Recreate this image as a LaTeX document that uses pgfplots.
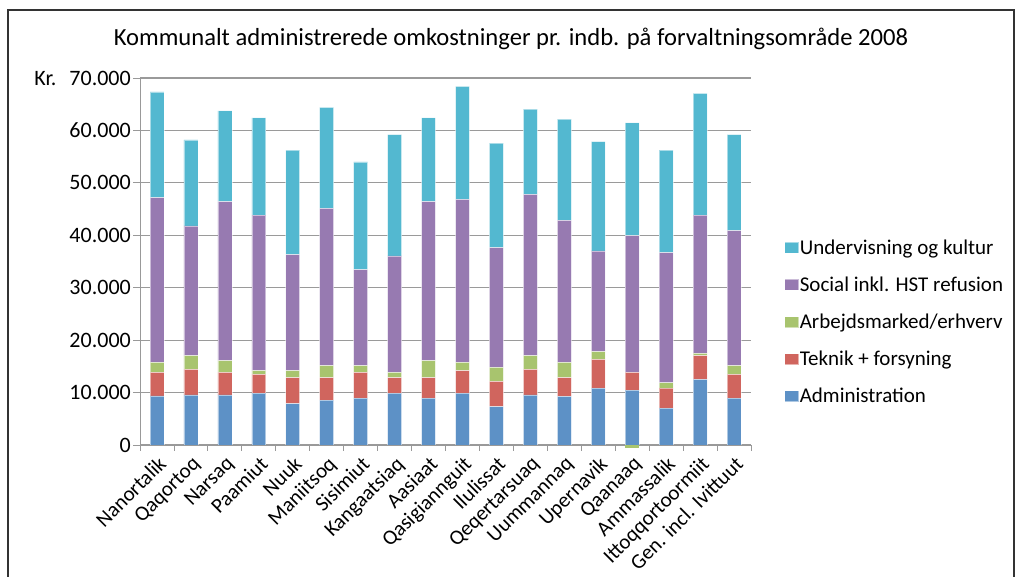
\documentclass[border=0pt]{standalone}
\usepackage{fontspec}
\setmainfont{Carlito}
\usepackage{pgfplots}
\usepackage{pgfplotstable}
\pgfplotsset{compat=1.18}
\definecolor{cAdm}{HTML}{5D91C6}
\definecolor{cTek}{HTML}{D0655E}
\definecolor{cArb}{HTML}{A8C46E}
\definecolor{cSoc}{HTML}{977AB1}
\definecolor{cUnd}{HTML}{53B8D0}
\definecolor{cGrid}{HTML}{9A9A9A}
\pgfplotstableread{
x adm tek arb soc und
0 9380 4470 1910 31400 20170
1 9570 4850 2620 24760 16400
2 9570 4280 2230 30320 17350
3 9890 3580 700 29670 18570
4 7910 4920 1340 22140 19910
5 8550 4280 2290 30000 19270
6 8930 4920 1270 18320 20550
7 9890 2940 1020 22210 23160
8 8930 3900 3250 30320 16010
9 9890 4280 1590 31080 21570
10 7340 4790 2680 22840 19910
11 9570 4850 2620 30760 16270
12 9250 3580 2930 27060 19340
13 10850 5490 1460 19210 20870
14 10470 3380 0 26100 21510
15 7020 3830 1020 24830 19520
16 12510 4530 450 26350 23230
17 8930 4540 1650 25790 18310
}\data
\newcommand{\fs}{\fontsize{22}{25}\selectfont}
\newcommand{\fx}{\fontsize{21}{24}\selectfont}
\begin{document}
\begin{tikzpicture}
\useasboundingbox (0,0) rectangle (1017pt,577pt);
\draw[line width=1.5pt, black!80] (8pt,-20pt) rectangle (1014pt,567pt);
\node[anchor=base, font=\fontsize{24.6}{28}\selectfont] at (511pt,531pt) {Kommunalt administrerede omkostninger pr. indb. på forvaltningsområde 2008};
\begin{axis}[
  at={(140pt,132pt)}, anchor=south west, scale only axis,
  width=611pt, height=367pt,
  ybar stacked, bar width=0.41,
  xmin=-0.5, xmax=17.5, ymin=0, ymax=70000,
  scaled y ticks=false,
  xtick={0,...,17},
  xticklabels={Nanortalik,Qaqortoq,Narsaq,Paamiut,Nuuk,Maniitsoq,Sisimiut,Kangaatsiaq,Aasiaat,Qasigiannguit,Ilulissat,Qeqertarsuaq,Uummannaq,Upernavik,Qaanaaq,Ammassalik,Ittoqqortoormiit,Gen. incl. Ivittuut},
  minor xtick={-0.5,0.5,...,17.5},
  every major x tick/.append style={draw=none},
  tick align=outside, major tick length=7pt, minor tick length=6pt,
  tick style={draw=gray!80, line width=0.8pt},
  ytick={0,10000,...,70000},
  yticklabels={0,10.000,20.000,30.000,40.000,50.000,60.000,Kr.\hspace{13pt}70.000},
  ymajorgrids, grid style={draw=cGrid, line width=1.2pt},
  axis x line*=bottom, axis y line*=left,
  axis line style={draw=gray!80, line width=0.8pt, -},
  xticklabel style={rotate=45, anchor=north east, font=\fx, inner sep=2pt},
  yticklabel style={font=\fs, inner sep=2pt},
  legend style={at={(1.054,0.335)}, anchor=west, draw=none, fill=none, font=\fx,
    row sep=19pt, inner sep=0pt, nodes={inner sep=1pt}},
  legend cell align=left,
  reverse legend,
  legend image code/.code={\fill[#1] (0pt,-5.5pt) rectangle (14pt,5.5pt);},
]
\addplot[fill=cAdm, draw=white, draw opacity=0.5, line width=0.6pt] table[x=x,y=adm]{\data};
\addlegendentry{Administration}
\addplot[fill=cTek, draw=white, draw opacity=0.5, line width=0.6pt] table[x=x,y=tek]{\data};
\addlegendentry{Teknik + forsyning}
\addplot[fill=cArb, draw=white, draw opacity=0.5, line width=0.6pt] table[x=x,y=arb]{\data};
\addlegendentry{Arbejdsmarked/erhverv}
\addplot[fill=cSoc, draw=white, draw opacity=0.5, line width=0.6pt] table[x=x,y=soc]{\data};
\addlegendentry{Social inkl. HST refusion}
\addplot[fill=cUnd, draw=white, draw opacity=0.5, line width=0.6pt] table[x=x,y=und]{\data};
\addlegendentry{Undervisning og kultur}
\end{axis}
\begin{axis}[
  at={(140pt,132pt)}, anchor=south west, scale only axis,
  width=611pt, height=367pt, hide axis, clip=false,
  ybar, bar width=0.41, bar shift=0pt,
  xmin=-0.5, xmax=17.5, ymin=0, ymax=70000,
]
\addplot[fill=cArb, draw=none] coordinates {(14,-500)};
\end{axis}
\end{tikzpicture}
\end{document}
